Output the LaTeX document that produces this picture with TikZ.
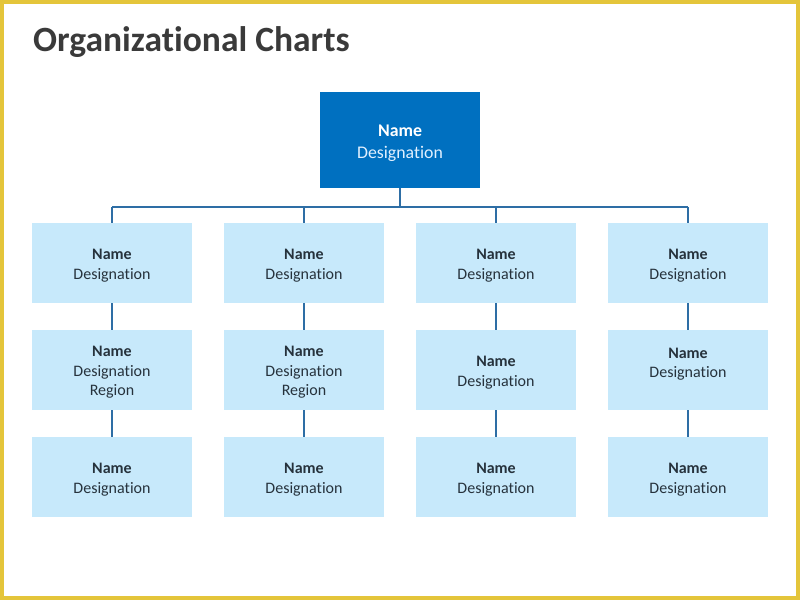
\documentclass[tikz,border=0pt]{standalone}
\usepackage{fontspec}
\setmainfont{Carlito}[Ligatures=NoCommon]
\definecolor{frame}{RGB}{228,197,58}
\definecolor{topblue}{RGB}{0,112,192}
\definecolor{lightbox}{RGB}{199,233,251}
\definecolor{conncol}{RGB}{46,110,165}
\definecolor{boxtext}{RGB}{38,50,60}
\definecolor{titlecol}{RGB}{58,58,58}
\definecolor{toptext}{RGB}{225,240,255}
\begin{document}
\begin{tikzpicture}[x=1pt,y=-1pt,
  topnode/.style={draw=none,fill=topblue,minimum width=160pt,minimum height=96pt,inner sep=0pt},
  subnode/.style={draw=none,fill=lightbox,minimum width=160pt,minimum height=80pt,inner sep=0pt},
  toplbl/.style={inner sep=0pt,align=center,text=toptext,font=\fontsize{17.8}{22}\selectfont},
  sublbl/.style={inner sep=0pt,align=center,text=boxtext,font=\fontsize{16}{19.5}\selectfont},
  conn/.style={draw=conncol,line width=1.6pt}]
\useasboundingbox (0,0) rectangle (800,600);
\fill[frame] (0,0) rectangle (800,600);
\fill[white] (4,4) rectangle (796,596);
\node[anchor=base west,inner sep=0pt,text=titlecol,font=\fontsize{35.5}{40}\selectfont\bfseries] (title) at (33,51) {Organizational Charts};
\node[topnode] (top) at (400,140) {};
\node[toplbl] (topt) at ([yshift=-3pt]top.center) {{\bfseries\color{white}Name}\\Designation};
\foreach \c/\x in {a/112,b/304,c/496,d/688}{
  \node[subnode] (\c1) at (\x,263) {};
  \node[subnode] (\c2) at (\x,370) {};
  \node[subnode] (\c3) at (\x,477) {};
  \node[sublbl] (\c1t) at ([yshift=-2.5pt]\c1.center) {\textbf{Name}\\Designation};
  \node[sublbl] (\c3t) at ([yshift=-2.5pt]\c3.center) {\textbf{Name}\\Designation};
}
\node[sublbl] (a2t) at ([yshift=-2.5pt]a2.center) {\textbf{Name}\\Designation\\Region};
\node[sublbl] (b2t) at ([yshift=-2.5pt]b2.center) {\textbf{Name}\\Designation\\Region};
\node[sublbl] (c2t) at ([yshift=-2.5pt]c2.center) {\textbf{Name}\\Designation};
\node[sublbl] (d2t) at ([yshift=-2.5pt]d2.center) {\textbf{Name}\\Designation\\\mbox{}};
\coordinate (bus) at (400,207);
\draw[conn] (top.south) -- (bus);
\draw[conn] (a1.north |- bus) -- (d1.north |- bus);
\foreach \c in {a,b,c,d}{
  \draw[conn] (\c1.north |- bus) -- (\c1.north);
  \draw[conn] (\c1.south) -- (\c2.north);
  \draw[conn] (\c2.south) -- (\c3.north);
}
\end{tikzpicture}
\end{document}
